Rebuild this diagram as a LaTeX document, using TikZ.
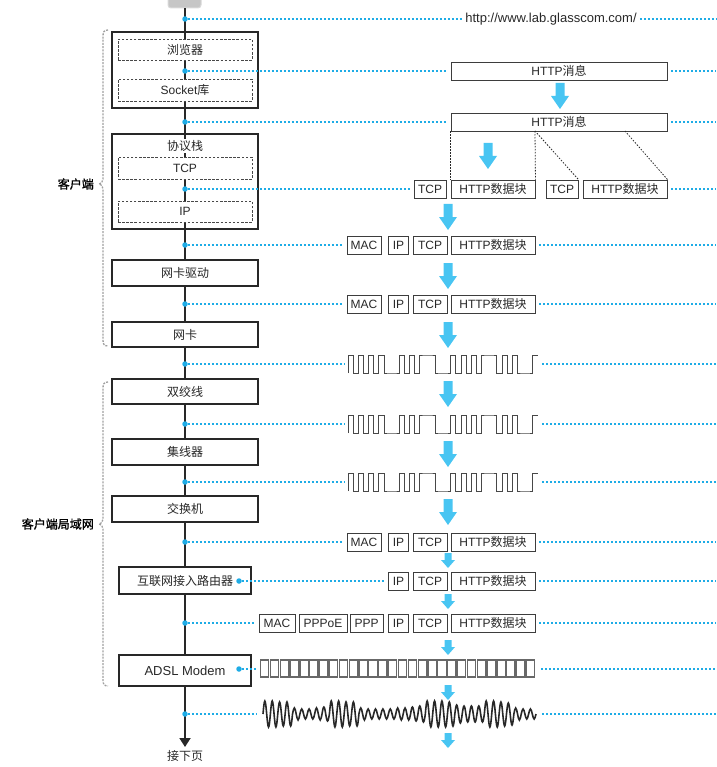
\documentclass[tikz,border=0pt]{standalone}
\usepackage{fontspec}
\setmainfont{Liberation Sans}
\newfontfamily\cjkf{Noto Sans CJK SC}
\newfontfamily\cjkbf[FakeBold=1.2]{Noto Sans CJK SC}
\newcommand\zh[1]{{\cjkf #1}}
\usetikzlibrary{arrows.meta}
\definecolor{dotblue}{RGB}{30,172,230}
\definecolor{arrblue}{RGB}{72,197,242}
\definecolor{ink}{RGB}{40,40,40}
\newcommand\bigarr[2]{\fill[arrblue] ({#1-4.5},#2) -- ({#1+4.5},#2) -- ({#1+4.5},{#2+13}) -- ({#1+9},{#2+13}) -- (#1,{#2+26}) -- ({#1-9},{#2+13}) -- ({#1-4.5},{#2+13}) -- cycle;}
\newcommand\smallarr[2]{\fill[arrblue] ({#1-3.5},#2) -- ({#1+3.5},#2) -- ({#1+3.5},{#2+7}) -- ({#1+7},{#2+7}) -- (#1,{#2+15}) -- ({#1-7},{#2+7}) -- ({#1-3.5},{#2+7}) -- cycle;}
\newcommand\stdrow[2]{%
 \node[pkt,minimum width=34pt] (#1m) at (364,#2) {MAC};
 \node[pkt,minimum width=20pt] (#1i) at (398.5,#2) {IP};
 \node[pkt,minimum width=34pt] (#1t) at (430,#2) {TCP};
 \node[pkt,minimum width=84pt] (#1h) at (493,#2) {HTTP\zh{数据块}};}
\newcommand\sqwave[2]{%
 \coordinate (#1s) at (348,#2); \coordinate (#1e) at (538,#2);
 \draw[sq] (348,{#2+9}) \foreach \l [count=\i from 0] in {1,0,1,0,1,0,1,0,0,0,1,0,1,0,1,1,1,0,0,0,1,0,1,0,1,0,1,1,1,0,1,0,1,0,0,0,1}
  { -- ({348+\i*5.135},{#2+9-18*\l}) -- ({348+(\i+1)*5.135},{#2+9-18*\l}) };}
\begin{document}
\begin{tikzpicture}[x=1pt,y=-1pt, font=\fontsize{12}{14}\selectfont, text=ink,
 layer/.style={draw=ink, line width=2pt, minimum width=146pt, inner sep=0pt},
 sub/.style={draw=ink!85, dash pattern=on 2.5pt off 1.6pt, line width=0.8pt, minimum width=134pt, inner sep=0pt, fill=white},
 pkt/.style={draw=ink!90, line width=0.9pt, minimum height=18pt, inner sep=0pt, fill=white},
 bdot/.style={circle, fill=dotblue, inner sep=0pt, minimum size=5.5pt},
 bline/.style={dotblue, line width=2pt, dash pattern=on 1.8pt off 2.2pt},
 mainline/.style={ink, line width=1.8pt},
 brace/.style={gray!75, line width=1.3pt, dash pattern=on 2pt off 1.2pt},
 sq/.style={ink!85, line width=0.9pt},
 sine/.style={ink, line width=1.6pt},
 split/.style={ink, line width=0.8pt, dash pattern=on 1.5pt off 1.5pt},
 tofu/.style={draw=ink!70, line width=1.2pt},
 ]
\useasboundingbox (0,0) rectangle (716,767);
% top shape and main line
\draw[fill=gray!45, draw=gray!30, line width=1pt, rounded corners=3pt] (168,-6) rectangle (201,8);
\coordinate (top) at (185,8);
\coordinate (end) at (185,747);
\draw[mainline, -{Triangle[length=9pt,width=11pt]}] (top) -- (end);
\node[below=2pt, inner sep=1pt] (next) at (end) {\zh{接下页}};
% braces
\draw[brace] (108,30) .. controls (104,30) and (103,32) .. (103,36) -- (103,179) .. controls (103,182) and (101,184) .. (99,184) .. controls (101,184) and (103,186) .. (103,189) -- (103,340) .. controls (103,344) and (104,346) .. (108,346);
\draw[brace] (108,382) .. controls (104,382) and (103,384) .. (103,388) -- (103,519) .. controls (103,522) and (101,524) .. (99,524) .. controls (101,524) and (103,526) .. (103,529) -- (103,680) .. controls (103,684) and (104,686) .. (108,686);
\node[anchor=east, inner sep=0pt, text=black] (lab1) at (94,184) {\cjkbf 客户端};
\node[anchor=east, inner sep=0pt, text=black] (lab2) at (94,524) {\cjkbf 客户端局域网};
% layer boxes
\node[layer, minimum height=76pt] (L1) at (185,70) {};
\node[sub, minimum height=21pt] (s11) at (185,49.5) {\zh{浏览器}};
\node[sub, minimum height=22pt] (s12) at (185,90) {Socket\zh{库}};
\node[layer, minimum height=95pt] (L2) at (185,181.5) {};
\node[fill=white, inner sep=1pt] (L2t) at (185,146) {\zh{协议栈}};
\node[sub, minimum height=22pt] (s21) at (185,168) {TCP};
\node[sub, minimum height=21pt] (s22) at (185,211.5) {IP};
\node[layer, fill=white, minimum height=26pt] (L3) at (185,273) {\zh{网卡驱动}};
\node[layer, fill=white, minimum height=25pt] (L4) at (185,334.5) {\zh{网卡}};
\node[layer, fill=white, minimum height=25pt] (L5) at (185,391.5) {\zh{双绞线}};
\node[layer, fill=white, minimum height=26pt] (L6) at (185,452) {\zh{集线器}};
\node[layer, fill=white, minimum height=26pt] (L7) at (185,509) {\zh{交换机}};
\node[layer, fill=white, minimum width=132pt, minimum height=27pt] (L8) at (185,580.5) {\zh{互联网接入路由器}};
\node[layer, fill=white, minimum width=132pt, minimum height=31pt, font=\fontsize{13}{15}\selectfont] (L9) at (185,670.5) {ADSL Modem};
% Row A: URL
\node[bdot] (dA) at (185,19) {};
\node[font=\fontsize{13}{15}\selectfont, inner sep=3pt] (url) at (551,19) {http://www.lab.glasscom.com/};
\coordinate (eA) at (716,19);
\draw[bline] (dA) -- (url.west);
\draw[bline] (url.east) -- (eA);
% Row B
\node[bdot] (dB) at (185,71) {};
\node[pkt, minimum width=216pt] (mB) at (559,71) {HTTP\zh{消息}};
\coordinate (eB) at (716,71);
\draw[bline, shorten >=3pt] (dB) -- (mB);
\draw[bline, shorten <=4pt] (mB) -- (eB);
% Row C
\node[bdot] (dC) at (185,122) {};
\node[pkt, minimum width=216pt] (mC) at (559,122) {HTTP\zh{消息}};
\coordinate (eC) at (716,122);
\draw[bline, shorten >=3pt] (dC) -- (mC);
\draw[bline, shorten <=4pt] (mC) -- (eC);
% Row D
\node[bdot] (dD) at (185,189) {};
\node[pkt, minimum width=32pt] (D1) at (430,189) {TCP};
\node[pkt, minimum width=84pt] (D2) at (493,189) {HTTP\zh{数据块}};
\node[pkt, minimum width=32pt] (D3) at (562,189) {TCP};
\node[pkt, minimum width=84pt] (D4) at (625,189) {HTTP\zh{数据块}};
\coordinate (eD) at (716,189);
\draw[bline, shorten >=3pt] (dD) -- (D1);
\draw[bline, shorten <=4pt] (D4) -- (eD);
\coordinate (c1) at (535,131);
\coordinate (c2) at (625,131);
\draw[split] (mC.south west) -- (D2.north west);
\draw[split] (c1) -- (D2.north east);
\draw[split] (c1) -- (D3.north east);
\draw[split] (c2) -- (D4.north east);
% Row E, F
\node[bdot] (dE) at (185,245) {};
\stdrow{E}{245}
\coordinate (eE) at (716,245);
\draw[bline, shorten >=3pt] (dE) -- (Em);
\draw[bline, shorten <=4pt] (Eh) -- (eE);
\node[bdot] (dF) at (185,304) {};
\stdrow{F}{304}
\coordinate (eF) at (716,304);
\draw[bline, shorten >=3pt] (dF) -- (Fm);
\draw[bline, shorten <=4pt] (Fh) -- (eF);
% square waves
\node[bdot] (dG) at (185,364) {};
\sqwave{G}{364}
\coordinate (eG) at (716,364);
\draw[bline, shorten >=4pt] (dG) -- (Gs);
\draw[bline, shorten <=4pt] (Ge) -- (eG);
\node[bdot] (dH) at (185,424) {};
\sqwave{H}{424}
\coordinate (eH) at (716,424);
\draw[bline, shorten >=4pt] (dH) -- (Hs);
\draw[bline, shorten <=4pt] (He) -- (eH);
\node[bdot] (dI) at (185,482) {};
\sqwave{I}{482}
\coordinate (eI) at (716,482);
\draw[bline, shorten >=4pt] (dI) -- (Is);
\draw[bline, shorten <=4pt] (Ie) -- (eI);
% Row J
\node[bdot] (dJ) at (185,542) {};
\stdrow{J}{542}
\coordinate (eJ) at (716,542);
\draw[bline, shorten >=3pt] (dJ) -- (Jm);
\draw[bline, shorten <=4pt] (Jh) -- (eJ);
% Row K
\node[bdot] (dK) at (239,581) {};
\node[pkt,minimum width=20pt] (Ki) at (398.5,581) {IP};
\node[pkt,minimum width=34pt] (Kt) at (430,581) {TCP};
\node[pkt,minimum width=84pt] (Kh) at (493,581) {HTTP\zh{数据块}};
\coordinate (eK) at (716,581);
\draw[bline, shorten >=3pt] (dK) -- (Ki);
\draw[bline, shorten <=4pt] (Kh) -- (eK);
% Row L
\node[bdot] (dL) at (185,623) {};
\node[pkt,minimum width=36pt] (Lm) at (277,623) {MAC};
\node[pkt,minimum width=48pt] (Lp) at (323,623) {PPPoE};
\node[pkt,minimum width=33pt] (Lq) at (366.5,623) {PPP};
\node[pkt,minimum width=20pt] (Li) at (398.5,623) {IP};
\node[pkt,minimum width=34pt] (Lt) at (430,623) {TCP};
\node[pkt,minimum width=84pt] (Lh) at (493,623) {HTTP\zh{数据块}};
\coordinate (eL) at (716,623);
\draw[bline, shorten >=3pt] (dL) -- (Lm);
\draw[bline, shorten <=4pt] (Lh) -- (eL);
% Row M: boxes
\node[bdot] (dM) at (239,669) {};
\foreach \k in {0,...,27} \draw[tofu] ({260.5+\k*9.85},660) rectangle ++(8.3,17);
\coordinate (Ms) at (260,669); \coordinate (Me) at (537,669);
\coordinate (eM) at (716,669);
\draw[bline, shorten >=3pt] (dM) -- (Ms);
\draw[bline, shorten <=4pt] (Me) -- (eM);
% Row N: sine
\node[bdot] (dN) at (185,714) {};
\draw[sine] (263,714) \foreach \a [count=\i from 0] in {13,13,12,12,6,5,5,6,7,13,13,12,12,6,5,5,5,5,6,6,7,8,13,13,13,12,9,8,8,8,13,13,12,11,6,5,5}
 { sin ({263+(\i+0.25)*7.378},{714-\a}) cos ({263+(\i+0.5)*7.378},714) sin ({263+(\i+0.75)*7.378},{714+\a}) cos ({263+(\i+1)*7.378},714) };
\coordinate (Ns) at (260,714); \coordinate (Ne) at (539,714);
\coordinate (eN) at (716,714);
\draw[bline, shorten >=3pt] (dN) -- (Ns);
\draw[bline, shorten <=3pt] (Ne) -- (eN);
% blue arrows
\bigarr{560}{83}
\bigarr{488}{143}
\bigarr{448}{204}
\bigarr{448}{263}
\bigarr{448}{322}
\bigarr{448}{381}
\bigarr{448}{441}
\bigarr{448}{499}
\smallarr{448}{553}
\smallarr{448}{594}
\smallarr{448}{640}
\smallarr{448}{685}
\smallarr{448}{733}
\end{tikzpicture}
\end{document}
